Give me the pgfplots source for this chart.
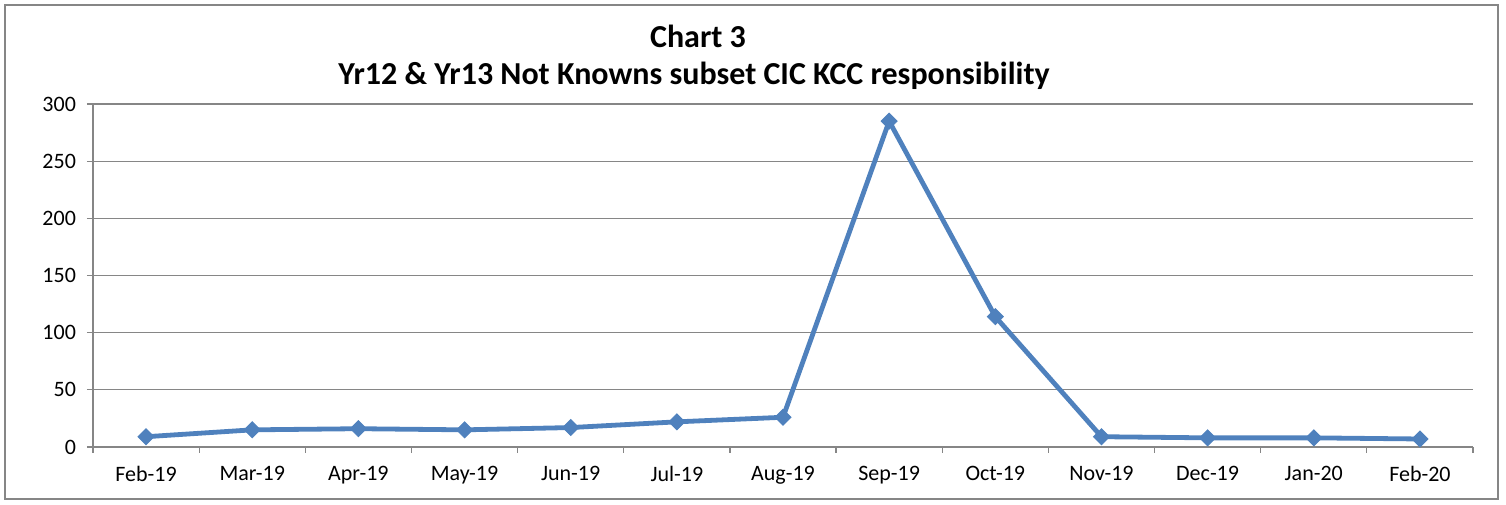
\documentclass[border=0pt]{standalone}
\usepackage{pgfplots}
\pgfplotsset{compat=1.18}
\usepackage{fontspec}
\setmainfont{Carlito}
\definecolor{ln}{HTML}{4F81BD}
\definecolor{gr}{HTML}{868686}
\begin{document}
\begin{tikzpicture}[x=1pt,y=1pt]
\path[use as bounding box] (0,0) rectangle (753,252);
\draw[gr,line width=0.8pt] (2.5,2.5) rectangle (749,249.5);
\node[font=\fontsize{16}{18}\selectfont\bfseries] at (349,234) {Chart 3};
\node[font=\fontsize{16}{18}\selectfont\bfseries] at (347,214) {Yr12 \& Yr13 Not Knowns subset CIC KCC responsibility};
\begin{axis}[
  at={(46.5pt,28.5pt)}, anchor=south west,
  scale only axis, width=690pt, height=171.5pt,
  xmin=-0.5, xmax=12.5, ymin=0, ymax=300,
  ytick={0,50,...,300},
  xtick={0,...,12},
  xticklabels={Feb-19,Mar-19,Apr-19,May-19,Jun-19,Jul-19,Aug-19,Sep-19,Oct-19,Nov-19,Dec-19,Jan-20,Feb-20},
  minor xtick={-0.5,0.5,...,12.5},
  major x tick style={draw=none},
  minor tick length=3pt,
  major tick length=3pt,
  tick align=outside,
  tick style={gr,line width=0.6pt},
  axis lines*=left,
  axis line style={gr,line width=0.8pt},
  ymajorgrids, grid style={gr,line width=0.6pt},
  ticklabel style={font=\fontsize{11}{12}\selectfont},
  /pgf/number format/assume math mode=true,
  xticklabel style={yshift=-3pt},
  yticklabel style={xshift=-2pt},
  clip=false,
]
\addplot[ln,line width=2.4pt,mark=square*,mark size=2.8pt,mark options={rotate=45,fill=ln,draw=ln,line width=0.5pt}]
coordinates {(0,9) (1,15) (2,16) (3,15) (4,17) (5,22) (6,26) (7,285) (8,114) (9,9) (10,8) (11,8) (12,7)};
\end{axis}
\end{tikzpicture}
\end{document}
